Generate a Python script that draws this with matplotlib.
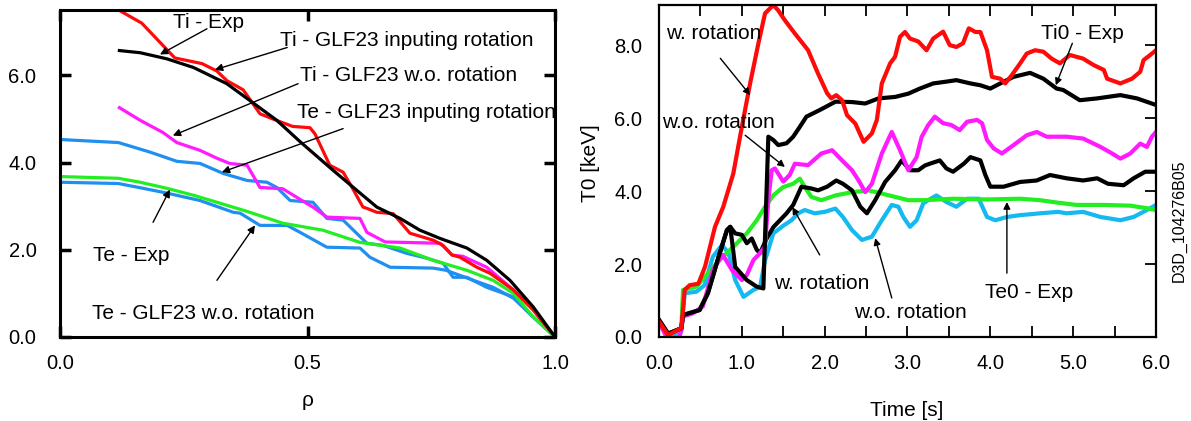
import matplotlib
matplotlib.use('Agg')
import matplotlib.pyplot as plt

plt.rcParams['font.family'] = ['Liberation Sans', 'DejaVu Sans']
plt.rcParams['font.size'] = 15

# ---- left panel: profiles vs rho ----
ti_exp_r = [0.12, 0.165, 0.232, 0.287, 0.317, 0.337, 0.37, 0.404, 0.43, 0.47, 0.505, 0.515, 0.545,
            0.572, 0.59, 0.612, 0.62, 0.64, 0.673, 0.707, 0.754, 0.774, 0.792, 0.808, 0.842, 0.869,
            0.916, 0.956, 1.0]
ti_exp = [7.49, 7.2, 6.4, 6.27, 6.1, 5.88, 5.67, 5.12, 5.0, 4.83, 4.8, 4.66, 3.94,
          3.78, 3.43, 2.98, 2.95, 2.86, 2.83, 2.38, 2.22, 2.1, 1.88, 1.83, 1.6, 1.46,
          1.08, 0.62, 0.0]

ti_rot_r = [0.12, 0.162, 0.216, 0.27, 0.337, 0.384, 0.438, 0.485, 0.552, 0.6, 0.64, 0.687,
            0.727, 0.768, 0.822, 0.862, 0.909, 0.956, 1.0]
ti_rot = [6.57, 6.52, 6.38, 6.18, 5.81, 5.42, 4.97, 4.48, 3.82, 3.36, 2.98, 2.72,
          2.45, 2.26, 2.04, 1.76, 1.3, 0.69, 0.0]

ti_norot_r = [0.12, 0.162, 0.208, 0.236, 0.283, 0.317, 0.343, 0.378, 0.404, 0.45, 0.499, 0.511,
              0.539, 0.606, 0.62, 0.657, 0.768, 0.792, 0.814, 0.862, 0.916, 0.956, 1.0]
ti_norot = [5.26, 4.97, 4.69, 4.46, 4.28, 4.1, 3.98, 3.94, 3.43, 3.4, 3.06, 2.98,
            2.75, 2.72, 2.4, 2.18, 2.15, 1.88, 1.85, 1.6, 1.08, 0.62, 0.0]

te_rot_r = [0.0, 0.118, 0.182, 0.236, 0.283, 0.33, 0.378, 0.418, 0.438, 0.465, 0.511, 0.539,
            0.572, 0.62, 0.653, 0.7, 0.74, 0.774, 0.794, 0.822, 0.862, 0.916, 0.956, 1.0]
te_rot = [4.53, 4.46, 4.24, 4.03, 3.98, 3.75, 3.59, 3.55, 3.43, 3.13, 3.09, 2.72,
          2.68, 2.15, 2.1, 1.92, 1.81, 1.69, 1.37, 1.37, 1.14, 0.92, 0.46, 0.0]

te_norot_r = [0.0, 0.118, 0.168, 0.216, 0.283, 0.35, 0.364, 0.404, 0.459, 0.485, 0.539, 0.606,
              0.626, 0.667, 0.754, 0.78, 0.835, 0.875, 0.916, 0.956, 1.0]
te_norot = [3.55, 3.52, 3.41, 3.3, 3.13, 2.86, 2.84, 2.56, 2.56, 2.4, 2.06, 2.04,
            1.83, 1.6, 1.58, 1.53, 1.3, 1.14, 0.89, 0.46, 0.0]

te_exp_r = [0.0, 0.118, 0.162, 0.216, 0.27, 0.317, 0.378, 0.45, 0.531, 0.606, 0.687, 0.754,
            0.822, 0.875, 0.916, 0.956, 1.0]
te_exp = [3.68, 3.64, 3.55, 3.41, 3.25, 3.09, 2.88, 2.61, 2.45, 2.17, 2.04, 1.76,
          1.53, 1.3, 1.0, 0.46, 0.0]

# ---- right panel: central temperatures vs time ----
ti_w_t = [0.0, 0.11, 0.27, 0.31, 0.37, 0.475, 0.556, 0.676, 0.776, 0.897, 1.0, 1.1, 1.2, 1.28, 1.38,
          1.44, 1.52, 1.64, 1.80, 1.92, 2.03, 2.08, 2.14, 2.21, 2.27, 2.37, 2.47, 2.57, 2.63, 2.69,
          2.79, 2.85, 2.91, 2.97, 3.03, 3.13, 3.23, 3.31, 3.43, 3.51, 3.59, 3.67, 3.74, 3.82, 3.88,
          3.96, 4.02, 4.12, 4.18, 4.26, 4.36, 4.44, 4.54, 4.64, 4.74, 4.84, 4.96, 5.12, 5.25, 5.37,
          5.41, 5.57, 5.71, 5.81, 5.85, 5.93, 6.0]
ti_w = [0.42, 0.05, 0.25, 1.29, 1.42, 1.46, 1.93, 3.02, 3.57, 4.48, 5.76, 6.95, 8.05, 8.87, 9.1,
        8.95, 8.68, 8.32, 7.86, 7.22, 6.68, 6.54, 6.63, 6.49, 6.08, 5.85, 5.35, 5.58, 5.95, 6.95,
        7.5, 7.68, 8.23, 8.36, 8.18, 8.1, 7.86, 8.18, 8.37, 8.0, 7.95, 8.05, 8.46, 8.36, 8.36,
        7.86, 7.13, 7.08, 6.95, 7.18, 7.5, 7.77, 7.86, 7.82, 7.63, 7.5, 7.73, 7.63, 7.45, 7.32,
        7.08, 6.95, 7.08, 7.27, 7.59, 7.73, 7.86]

ti_exp_t = [0.0, 0.11, 0.27, 0.29, 0.49, 0.59, 0.72, 0.82, 0.86, 0.92, 1.06, 1.18, 1.26, 1.32,
            1.38, 1.44, 1.54, 1.62, 1.70, 1.78, 1.94, 2.13, 2.33, 2.49, 2.65, 2.85, 3.01, 3.15,
            3.31, 3.47, 3.59, 3.76, 3.88, 4.0, 4.12, 4.28, 4.48, 4.64, 4.80, 4.88, 5.08, 5.29,
            5.57, 5.77, 6.0]
ti_exp0 = [0.47, 0.09, 0.24, 0.6, 0.74, 1.2, 2.2, 2.93, 3.02, 1.92, 1.56, 1.38, 1.33, 5.49,
           5.4, 5.26, 5.31, 5.49, 5.76, 6.04, 6.22, 6.45, 6.44, 6.4, 6.54, 6.58, 6.67, 6.81,
           6.95, 7.0, 7.04, 6.95, 6.9, 6.81, 6.95, 7.13, 7.24, 7.08, 6.81, 6.77, 6.49, 6.54,
           6.63, 6.54, 6.36]

ti_wo_t = [0.0, 0.11, 0.25, 0.29, 0.41, 0.53, 0.65, 0.77, 0.88, 1.0, 1.06, 1.14, 1.22, 1.28, 1.32,
           1.36, 1.40, 1.5, 1.58, 1.64, 1.80, 1.96, 2.09, 2.21, 2.33, 2.41, 2.49, 2.57, 2.69, 2.81,
           2.91, 3.01, 3.11, 3.17, 3.25, 3.33, 3.43, 3.53, 3.63, 3.72, 3.84, 3.9, 3.96, 4.04, 4.14,
           4.28, 4.44, 4.56, 4.68, 4.82, 4.92, 5.12, 5.33, 5.47, 5.57, 5.69, 5.81, 5.89, 5.95, 6.0]
ti_wo = [0.42, -0.1, 0.0, 0.56, 0.65, 0.84, 1.84, 2.25, 1.84, 1.56, 1.7, 2.11, 2.3, 2.48, 3.75,
         4.57, 4.62, 4.26, 4.45, 4.75, 4.71, 5.03, 5.12, 4.84, 4.57, 4.29, 3.97, 4.2, 5.03, 5.62,
         5.12, 4.57, 4.93, 5.48, 5.81, 6.04, 5.86, 5.81, 5.67, 5.9, 5.95, 5.86, 5.4, 5.17, 5.03,
         5.26, 5.53, 5.62, 5.49, 5.49, 5.49, 5.44, 5.21, 5.03, 4.89, 5.03, 5.3, 5.21, 5.49, 5.62]

te_w_t = [0.0, 0.11, 0.27, 0.29, 0.49, 0.59, 0.72, 0.82, 0.86, 0.92, 1.0, 1.06, 1.12, 1.18, 1.22,
          1.30, 1.38, 1.54, 1.62, 1.72, 1.84, 1.92, 2.03, 2.14, 2.22, 2.33, 2.43, 2.51, 2.61, 2.73,
          2.85, 2.93, 3.03, 3.13, 3.21, 3.27, 3.39, 3.47, 3.55, 3.68, 3.76, 3.88, 3.94, 4.0, 4.16,
          4.36, 4.56, 4.72, 4.92, 5.12, 5.29, 5.42, 5.61, 5.73, 5.87, 6.0]
te_w = [0.47, 0.09, 0.24, 0.6, 0.74, 1.2, 2.2, 2.93, 3.02, 2.84, 2.8, 2.57, 2.7, 2.39, 2.3,
        2.7, 3.01, 3.39, 3.62, 4.12, 4.07, 4.02, 4.12, 4.29, 4.2, 4.02, 3.57, 3.39, 3.75, 4.25,
        4.57, 4.84, 4.57, 4.57, 4.7, 4.75, 4.84, 4.62, 4.53, 4.75, 4.93, 4.84, 4.44, 4.12, 4.12,
        4.25, 4.29, 4.44, 4.35, 4.29, 4.35, 4.2, 4.16, 4.35, 4.53, 4.53]

te_exp_t = [0.0, 0.11, 0.27, 0.29, 0.45, 0.59, 0.73, 0.9, 1.06, 1.18, 1.28, 1.38, 1.5, 1.62, 1.70,
            1.76, 1.84, 1.96, 2.13, 2.33, 2.53, 2.69, 2.85, 3.01, 3.21, 3.55, 3.96, 4.36, 4.6,
            4.82, 5.04, 5.37, 5.69, 5.89, 6.0]
te_exp0 = [0.4, 0.09, 0.24, 1.29, 1.38, 1.74, 2.11, 2.48, 2.84, 3.2, 3.57, 3.88, 4.11, 4.2, 4.34,
           4.11, 3.84, 3.75, 3.88, 3.97, 4.02, 3.93, 3.84, 3.75, 3.75, 3.79, 3.77, 3.79, 3.75,
           3.68, 3.62, 3.62, 3.6, 3.53, 3.48]

te_wo_t = [0.0, 0.11, 0.27, 0.31, 0.45, 0.55, 0.65, 0.76, 0.84, 0.92, 1.02, 1.14, 1.22, 1.28, 1.38,
           1.5, 1.60, 1.68, 1.76, 1.88, 2.0, 2.13, 2.22, 2.33, 2.45, 2.57, 2.69, 2.81, 2.89, 2.95,
           3.03, 3.11, 3.19, 3.25, 3.35, 3.47, 3.59, 3.72, 3.86, 3.96, 4.06, 4.2, 4.36, 4.6, 4.82,
           4.92, 5.12, 5.33, 5.57, 5.73, 5.89, 6.0]
te_wo = [0.37, 0.01, 0.14, 1.2, 1.24, 1.42, 2.2, 2.52, 2.3, 1.56, 1.1, 1.29, 1.37, 2.1, 2.84,
         3.05, 3.2, 3.39, 3.48, 3.39, 3.43, 3.52, 3.29, 2.93, 2.66, 2.75, 3.2, 3.62, 3.57, 3.29,
         3.02, 3.2, 3.66, 3.75, 3.88, 3.7, 3.57, 3.79, 3.79, 3.29, 3.2, 3.29, 3.34, 3.39, 3.43,
         3.39, 3.43, 3.29, 3.2, 3.29, 3.48, 3.62]

RED = '#ff0a0a'
MAG = '#ff1aff'
GRN = '#22ee22'
BLU = '#1f8ff0'
CYN = '#14b9f0'

fig = plt.figure(figsize=(11.91, 4.21), dpi=100)

# left panel
ax1 = fig.add_axes([60/1191, 84/421, 495/1191, 327/421])
lw = 2.3
ax1.plot(te_norot_r, te_norot, color=BLU, lw=lw)
ax1.plot(te_rot_r, te_rot, color=BLU, lw=lw)
ax1.plot(te_exp_r, te_exp, color=GRN, lw=lw)
ax1.plot(ti_norot_r, ti_norot, color=MAG, lw=lw)
ax1.plot(ti_exp_r, ti_exp, color=RED, lw=lw)
ax1.plot(ti_rot_r, ti_rot, color='k', lw=lw)
ax1.set_xlim(0, 1.0)
ax1.set_ylim(0, 7.5)
ax1.set_xticks([0, 0.5, 1.0])
ax1.set_xticklabels(['0.0', '0.5', '1.0'])
ax1.set_yticks([0, 2, 4, 6])
ax1.set_yticklabels(['0.0', '2.0', '4.0', '6.0'])
ax1.tick_params(axis='both', direction='in', length=8, width=2.5,
                top=True, right=True, labelsize=14.5)
ax1.tick_params(axis='y', pad=17)
ax1.tick_params(axis='x', pad=12)
for s in ax1.spines.values():
    s.set_linewidth(2.2)
fig.text(308/1191, 1 - 400/421, 'ρ', ha='center', va='center', fontsize=15)

arr = dict(arrowstyle='-|>', color='k', lw=1.0, mutation_scale=11, shrinkA=0, shrinkB=0)
ax1.text(0.299, 7.22, 'Ti - Exp', ha='center', va='center')
ax1.annotate('', xy=(0.202, 6.48), xytext=(0.297, 7.07), arrowprops=arr)
ax1.text(0.444, 6.81, 'Ti - GLF23 inputing rotation', ha='left', va='center')
ax1.annotate('', xy=(0.313, 6.13), xytext=(0.459, 6.64), arrowprops=arr)
ax1.text(0.485, 5.99, 'Ti - GLF23 w.o. rotation', ha='left', va='center')
ax1.annotate('', xy=(0.228, 4.62), xytext=(0.481, 5.81), arrowprops=arr)
ax1.text(0.479, 5.16, 'Te - GLF23 inputing rotation', ha='left', va='center')
ax1.annotate('', xy=(0.327, 3.78), xytext=(0.572, 4.78), arrowprops=arr)
ax1.text(0.144, 1.88, 'Te - Exp', ha='center', va='center')
ax1.annotate('', xy=(0.222, 3.38), xytext=(0.188, 2.63), arrowprops=arr)
ax1.text(0.065, 0.55, 'Te - GLF23 w.o. rotation', ha='left', va='center')
ax1.annotate('', xy=(0.394, 2.56), xytext=(0.317, 1.3), arrowprops=arr)

# right panel
ax2 = fig.add_axes([659/1191, 84/421, 497/1191, 332/421])
lw2 = 3.0
ax2.plot(te_wo_t, te_wo, color=CYN, lw=lw2)
ax2.plot(te_exp_t, te_exp0, color=GRN, lw=lw2)
ax2.plot(te_w_t, te_w, color='k', lw=lw2)
ax2.plot(ti_wo_t, ti_wo, color=MAG, lw=lw2)
ax2.plot(ti_exp_t, ti_exp0, color='k', lw=lw2)
ax2.plot(ti_w_t, ti_w, color=RED, lw=lw2)
ax2.set_xlim(0, 6.0)
ax2.set_ylim(0, 9.1)
ax2.set_xticks([0, 1, 2, 3, 4, 5, 6])
ax2.set_xticklabels(['0.0', '1.0', '2.0', '3.0', '4.0', '5.0', '6.0'])
ax2.set_xticks([0.5, 1.5, 2.5, 3.5, 4.5, 5.5], minor=True)
ax2.set_yticks([0, 2, 4, 6, 8])
ax2.set_yticklabels(['0.0', '2.0', '4.0', '6.0', '8.0'])
ax2.tick_params(axis='x', which='both', direction='in', length=8, width=1.3,
                top=True, pad=12, labelsize=14.5)
ax2.tick_params(axis='y', direction='in', length=8, width=1.3, left=False,
                right=True, pad=12, labelsize=14.5)
for s in ax2.spines.values():
    s.set_linewidth(1.6)
fig.text(907/1191, 1 - 410/421, 'Time [s]', ha='center', va='center', fontsize=15)
fig.text(591/1191, 1 - 163/421, 'T0 [keV]', ha='center', va='center', fontsize=15,
         rotation=90)
fig.text(1179/1191, 1 - 221/421, 'D3D_104276B05', ha='center', va='center', fontsize=11.5,
         rotation=90)

arr2 = dict(arrowstyle='-|>', color='k', lw=1.0, mutation_scale=10, shrinkA=0, shrinkB=0)
ax2.text(0.66, 8.33, 'w. rotation', ha='center', va='center')
ax2.annotate('', xy=(1.1, 6.63), xytext=(0.74, 7.64), arrowprops=arr2)
ax2.text(0.72, 5.89, 'w.o. rotation', ha='center', va='center')
ax2.annotate('', xy=(1.52, 4.66), xytext=(1.04, 5.53), arrowprops=arr2)
ax2.text(1.97, 1.48, 'w. rotation', ha='center', va='center')
ax2.annotate('', xy=(1.61, 3.56), xytext=(1.94, 2.25), arrowprops=arr2)
ax2.text(3.04, 0.68, 'w.o. rotation', ha='center', va='center')
ax2.annotate('', xy=(2.61, 2.71), xytext=(2.81, 1.07), arrowprops=arr2)
ax2.text(5.11, 8.33, 'Ti0 - Exp', ha='center', va='center')
ax2.annotate('', xy=(4.79, 6.9), xytext=(4.99, 8.05), arrowprops=arr2)
ax2.text(4.47, 1.23, 'Te0 - Exp', ha='center', va='center')
ax2.annotate('', xy=(4.2, 3.7), xytext=(4.2, 1.75), arrowprops=arr2)

fig.savefig('out.png', dpi=100)
